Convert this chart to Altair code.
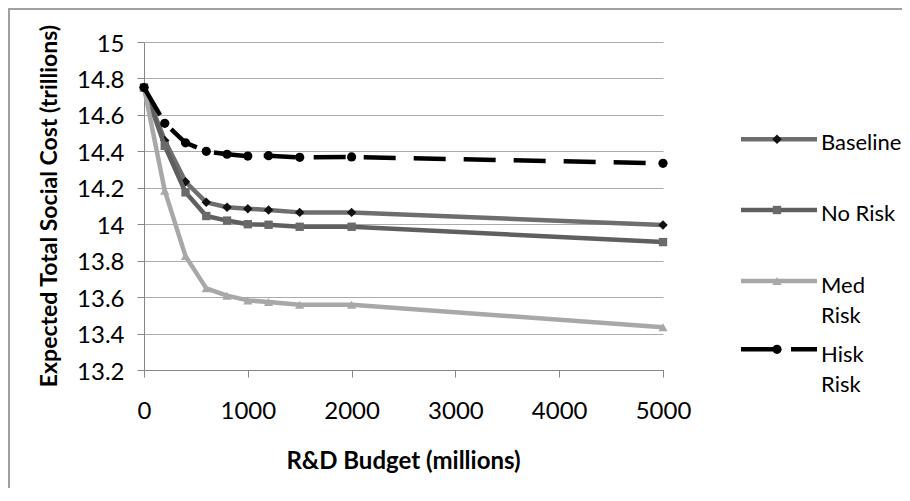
import altair as alt
import pandas as pd

# ---- data ----
budgets = [0, 200, 400, 600, 800, 1000, 1200, 1500, 2000, 5000]
baseline = [14.75, 14.46, 14.233, 14.12, 14.093, 14.085, 14.078, 14.065, 14.065, 13.996]
no_risk = [14.75, 14.43, 14.175, 14.045, 14.02, 14.0, 13.997, 13.986, 13.986, 13.902]
med_risk = [14.75, 14.184, 13.825, 13.648, 13.608, 13.582, 13.573, 13.558, 13.558, 13.434]
high_risk = [14.75, 14.554, 14.447, 14.40, 14.384, 14.374, 14.376, 14.367, 14.369, 14.334]

series_names = ["Baseline", "No Risk", "Med Risk", "Hisk Risk"]
legend_lines = [["Baseline"], ["No Risk"], ["Med", "Risk"], ["Hisk", "Risk"]]
y_ticks = [13.2, 13.4, 13.6, 13.8, 14.0, 14.2, 14.4, 14.6, 14.8, 15.0]
x_ticks = [0, 1000, 2000, 3000, 4000, 5000]

x_title = "R&D Budget (millions)"
y_title = "Expected Total Social Cost (trillions)"

all_values = [baseline, no_risk, med_risk, high_risk]
rows = []
for name, vals in zip(series_names, all_values):
    for b, v in zip(budgets, vals):
        rows.append({"budget": b, "value": v, "series": name})
df = pd.DataFrame(rows)
one = pd.DataFrame({"k": [0]})

FONT = "Lato"
W, H = 519, 328

styles = {
    "Baseline": dict(line="#6e6e6e", marker="#111111", shape="diamond", size=90, dash=None),
    "No Risk": dict(line="#5f5f5f", marker="#6a6a6a", shape="square", size=70, dash=None),
    "Med Risk": dict(line="#a8a8a8", marker="#a8a8a8", shape="triangle-up", size=85, dash=None),
    "Hisk Risk": dict(line="#000000", marker="#000000", shape="circle", size=85, dash=[32, 18]),
}

x_enc = alt.X(
    "budget:Q",
    scale=alt.Scale(domain=[0, 5000], nice=False),
    axis=alt.Axis(
        values=x_ticks, format="d", title=None, grid=False,
        domainColor="#868686", tickColor="#868686", tickSize=7,
        labelFont=FONT, labelFontSize=24, labelColor="#000000",
        labelBaseline="alphabetic", labelPadding=41,
        labelFlush=False, labelOverlap=False,
    ),
)
y_enc = alt.Y(
    "value:Q",
    scale=alt.Scale(domain=[13.2, 15], nice=False, zero=False),
    axis=alt.Axis(
        values=y_ticks, format=".3~r", title=None, grid=True,
        gridColor="#ababab", gridWidth=1,
        domainColor="#868686", tickColor="#868686", tickSize=7,
        labelFont=FONT, labelFontSize=24, labelColor="#000000",
        labelBaseline="alphabetic", labelOffset=9, labelPadding=13,
        labelFlush=False, labelOverlap=False,
    ),
)

layers = []

# chart-area border (top and left)
layers.append(alt.Chart(one).mark_rule(color="#a0a0a0", strokeWidth=2).encode(
    x=alt.value(-135), y=alt.value(-34), y2=alt.value(446)))
layers.append(alt.Chart(one).mark_rule(color="#a0a0a0", strokeWidth=2).encode(
    x=alt.value(-136), x2=alt.value(758), y=alt.value(-33)))

for name in series_names:
    st = styles[name]
    base = alt.Chart(df).transform_filter(alt.datum.series == name)
    line_kw = dict(color=st["line"], strokeWidth=4.5, strokeCap="butt", strokeJoin="round")
    if st["dash"]:
        line_kw["strokeDash"] = st["dash"]
    layers.append(base.mark_line(**line_kw).encode(x=x_enc, y=y_enc))
    layers.append(base.mark_point(shape=st["shape"], filled=True, opacity=1,
                                  size=st["size"], color=st["marker"]).encode(x=x_enc, y=y_enc))

# axis titles
layers.append(alt.Chart(one).mark_text(
    text=y_title, angle=270, font=FONT, fontSize=23, fontWeight="bold",
    align="center", baseline="alphabetic", color="#000000").encode(
    x=alt.value(-87), y=alt.value(164)))
layers.append(alt.Chart(one).mark_text(
    text=x_title, font=FONT, fontSize=24, fontWeight="bold",
    align="center", baseline="alphabetic", color="#000000").encode(
    x=alt.value(W / 2), y=alt.value(427)))

# legend
leg_line_y = [97.3, 168, 239, 307.3]
leg_text_y = [[108], [178.7], [250.7, 280.7], [319.7, 350]]
for name, ly, tys, lines in zip(series_names, leg_line_y, leg_text_y, legend_lines):
    st = styles[name]
    rule_kw = dict(color=st["line"], strokeWidth=4.5, strokeCap="butt")
    if st["dash"]:
        rule_kw["strokeDash"] = st["dash"]
    layers.append(alt.Chart(one).mark_rule(**rule_kw).encode(
        x=alt.value(597), x2=alt.value(673), y=alt.value(ly)))
    layers.append(alt.Chart(one).mark_point(shape=st["shape"], filled=True, opacity=1,
                                            size=st["size"], color=st["marker"]).encode(
        x=alt.value(633), y=alt.value(ly)))
    for t, ty in zip(lines, tys):
        layers.append(alt.Chart(one).mark_text(
            text=t, font=FONT, fontSize=22, align="left", baseline="alphabetic",
            color="#000000").encode(x=alt.value(677), y=alt.value(ty)))

chart = alt.layer(*layers).properties(
    width=W, height=H,
    autosize=alt.AutoSizeParams(type="none"),
    padding={"left": 136, "top": 34, "right": 239, "bottom": 118},
    background="#ffffff",
).configure_view(strokeWidth=0)

chart.save("out.html", embed_options={"renderer": "svg", "actions": False})
